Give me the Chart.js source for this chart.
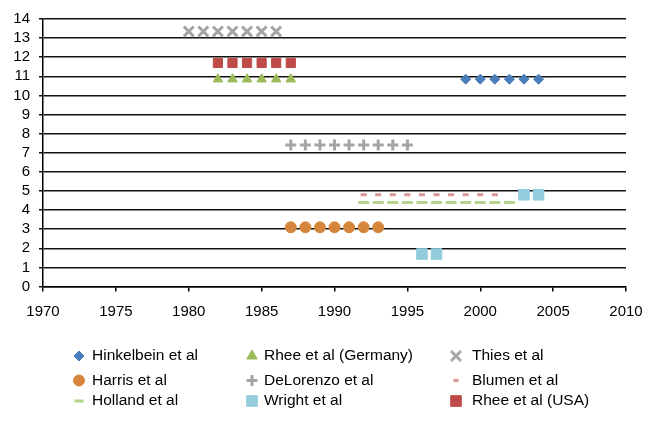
<!DOCTYPE html>
<html>
<head>
<meta charset="utf-8">
<script src="https://cdn.jsdelivr.net/npm/chart.js"></script>
<style>
    body { margin: 0; background: #fff; }
    #chart { display: block; }
</style>
</head>
<body>
<canvas id="chart" width="657" height="424"></canvas>
<script>
// Year and value for each study
const hinkelbeinX = [1999, 2000, 2001, 2002, 2003, 2004];
const hinkelbeinY = [10.85, 10.85, 10.85, 10.85, 10.85, 10.85];

const rheeGermanyX = [1982, 1983, 1984, 1985, 1986, 1987];
const rheeGermanyY = [10.85, 10.85, 10.85, 10.85, 10.85, 10.85];

const thiesX = [1980, 1981, 1982, 1983, 1984, 1985, 1986];
const thiesY = [13.35, 13.35, 13.35, 13.35, 13.35, 13.35, 13.35];

const harrisX = [1987, 1988, 1989, 1990, 1991, 1992, 1993];
const harrisY = [3.1, 3.1, 3.1, 3.1, 3.1, 3.1, 3.1];

const deLorenzoX = [1987, 1988, 1989, 1990, 1991, 1992, 1993, 1994, 1995];
const deLorenzoY = [7.4, 7.4, 7.4, 7.4, 7.4, 7.4, 7.4, 7.4, 7.4];

const blumenX = [1992, 1993, 1994, 1995, 1996, 1997, 1998, 1999, 2000, 2001];
const blumenY = [4.8, 4.8, 4.8, 4.8, 4.8, 4.8, 4.8, 4.8, 4.8, 4.8];

const hollandX = [1992, 1993, 1994, 1995, 1996, 1997, 1998, 1999, 2000, 2001, 2002];
const hollandY = [4.4, 4.4, 4.4, 4.4, 4.4, 4.4, 4.4, 4.4, 4.4, 4.4, 4.4];

const wrightX = [1996, 1997, 2003, 2004];
const wrightY = [1.7, 1.7, 4.8, 4.8];

const rheeUsaX = [1982, 1983, 1984, 1985, 1986, 1987];
const rheeUsaY = [11.7, 11.7, 11.7, 11.7, 11.7, 11.7];

const xTicks = [1970, 1975, 1980, 1985, 1990, 1995, 2000, 2005, 2010];
const yTicks = [0, 1, 2, 3, 4, 5, 6, 7, 8, 9, 10, 11, 12, 13, 14];

const FONT = "'Liberation Sans', Arial, sans-serif";

const points = (xs, ys) => xs.map((x, i) => ({ x: x, y: ys[i] }));

function series(label, xs, ys, style, color, radius, width, legendRadius) {
    return {
        label: label,
        data: points(xs, ys),
        pointStyle: style,
        pointRadius: radius,
        pointBackgroundColor: color,
        pointBorderColor: color,
        pointBorderWidth: width,
        legendRadius: legendRadius,
        showLine: false,
    };
}

// Legend drawn as a 3-column grid, like the original
const gridLegend = {
    id: 'gridLegend',
    afterDraw(chart) {
        const ctx = chart.ctx;
        const markX = [79, 252, 456];
        const textX = [92, 264, 472];
        const rowY = [356, 380.5, 401];
        ctx.save();
        ctx.font = '15.5px ' + FONT;
        ctx.textBaseline = 'middle';
        chart.data.datasets.forEach((ds, i) => {
            const col = i % 3;
            const row = Math.floor(i / 3);
            ctx.fillStyle = ds.pointBackgroundColor;
            ctx.strokeStyle = ds.pointBorderColor;
            ctx.lineWidth = ds.pointBorderWidth;
            Chart.helpers.drawPoint(ctx, {
                pointStyle: ds.pointStyle,
                radius: ds.legendRadius,
                rotation: 0,
                borderWidth: ds.pointBorderWidth,
            }, markX[col], rowY[row]);
            ctx.fillStyle = '#000';
            ctx.fillText(ds.label, textX[col], rowY[row]);
        });
        ctx.restore();
    },
};

const ctx = document.getElementById('chart').getContext('2d');

new Chart(ctx, {
    type: 'scatter',
    data: {
        datasets: [
            series('Hinkelbein et al', hinkelbeinX, hinkelbeinY, 'rectRot', '#4A7EBB', 5, 1, 5),
            series('Rhee et al (Germany)', rheeGermanyX, rheeGermanyY, 'triangle', '#9BBB59', 5.5, 1, 6),
            series('Thies et al', thiesX, thiesY, 'crossRot', '#A5A5A5', 7, 3, 7),
            series('Harris et al', harrisX, harrisY, 'circle', '#D6863C', 5.5, 1, 5.5),
            series('DeLorenzo et al', deLorenzoX, deLorenzoY, 'cross', '#A5A5A5', 5.5, 3, 5.5),
            series('Blumen et al', blumenX, blumenY, 'line', '#D99694', 3, 3, 2.5),
            series('Holland et al', hollandX, hollandY, 'line', '#B5D58F', 5.5, 3, 4.5),
            series('Wright et al', wrightX, wrightY, 'rect', '#93CDDD', 7.5, 1, 7.5),
            series('Rhee et al (USA)', rheeUsaX, rheeUsaY, 'rect', '#BE4B48', 6.5, 1, 7.5),
        ],
    },
    options: {
        responsive: false,
        animation: false,
        devicePixelRatio: 1,
        events: [],
        layout: {
            padding: { top: 19, right: 31, left: 0, bottom: 0 },
        },
        plugins: {
            legend: { display: false },
            tooltip: { enabled: false },
        },
        scales: {
            x: {
                type: 'linear',
                min: 1970,
                max: 2010,
                afterFit: (scale) => { scale.height = 137.5; },
                afterBuildTicks: (scale) => { scale.ticks = xTicks.map(v => ({ value: v })); },
                ticks: {
                    callback: (v) => String(v),
                    color: '#000',
                    font: { family: FONT, size: 15 },
                    padding: 11,
                    maxRotation: 0,
                    autoSkip: false,
                },
                grid: {
                    drawOnChartArea: false,
                    drawTicks: true,
                    tickLength: 5,
                    color: '#000',
                    lineWidth: 1.5,
                },
                border: { color: '#000', width: 1.5 },
            },
            y: {
                min: 0,
                max: 14,
                afterFit: (scale) => { scale.width = 43; },
                afterBuildTicks: (scale) => { scale.ticks = yTicks.map(v => ({ value: v })); },
                ticks: {
                    color: '#000',
                    font: { family: FONT, size: 15 },
                    padding: 9,
                    autoSkip: false,
                },
                grid: {
                    color: '#111',
                    lineWidth: 1.5,
                    tickLength: 4,
                },
                border: { color: '#000', width: 1.5 },
            },
        },
    },
    plugins: [gridLegend],
});
</script>
</body>
</html>
